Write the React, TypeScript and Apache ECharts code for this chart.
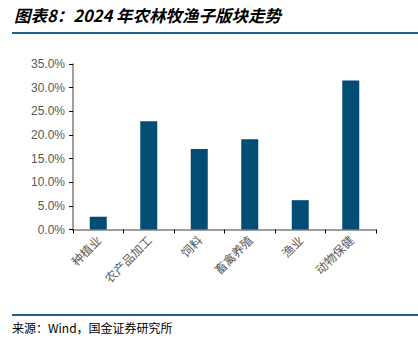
import React, { useEffect, useRef } from "react";
import * as echarts from "echarts";

const categories = ["种植业", "农产品加工", "饲料", "畜禽养殖", "渔业", "动物保健"];
const values = [2.7, 22.9, 17.0, 19.1, 6.2, 31.5];
const titleText = "图表8：2024 年农林牧渔子版块走势";
const sourceText = "来源：Wind，国金证券研究所";

export default function App() {
  const ref = useRef<HTMLDivElement>(null);
  useEffect(() => {
    if (!ref.current) return;
    const chart = echarts.init(ref.current, null, { renderer: "svg" });
    chart.setOption({
      animation: false,
      backgroundColor: "#ffffff",
      grid: { left: 73, right: 42, top: 64, bottom: 111.5 },
      xAxis: {
        type: "category",
        data: categories,
        boundaryGap: true,
        axisLine: { lineStyle: { color: "#7f7f7f", width: 1.5 } },
        axisTick: { show: true, length: 4, lineStyle: { color: "#000000" } },
        axisLabel: {
          rotate: 45,
          color: "#595959",
          fontSize: 12,
          fontFamily: "Noto Sans CJK SC",
          margin: 8,
          interval: 0,
        },
      },
      yAxis: {
        type: "value",
        min: 0,
        max: 35,
        interval: 5,
        axisLine: { show: true, lineStyle: { color: "#7f7f7f", width: 1.5 } },
        axisTick: { show: true, length: 4, lineStyle: { color: "#000000" } },
        splitLine: { show: false },
        axisLabel: {
          color: "#595959",
          fontSize: 12,
          fontFamily: "Arial, Liberation Sans",
          margin: 8,
          formatter: (v: number) => v.toFixed(1) + "%",
        },
      },
      series: [
        {
          type: "bar",
          data: values,
          barWidth: 17,
          itemStyle: { color: "#034c74" },
        },
      ],
      graphic: [
        {
          type: "text",
          left: 14,
          top: 7,
          style: {
            text: titleText,
            fontSize: 16.5,
            fontStyle: "italic",
            fontWeight: "bold",
            fontFamily: "Noto Sans CJK SC",
            fill: "#000000",
          },
        },
        {
          type: "line",
          shape: { x1: 12, y1: 33, x2: 418, y2: 33 },
          style: { stroke: "#1f5f8b", lineWidth: 2 },
        },
        {
          type: "line",
          shape: { x1: 12, y1: 315, x2: 418, y2: 315 },
          style: { stroke: "#1f5f8b", lineWidth: 2 },
        },
        {
          type: "text",
          left: 12,
          top: 321,
          style: {
            text: sourceText,
            fontSize: 12,
            fontFamily: "Noto Sans CJK SC",
            fill: "#000000",
          },
        },
      ],
    });
    return () => chart.dispose();
  }, []);
  return <div ref={ref} style={{ width: 418, height: 341, position: "absolute", left: 0, top: 0 }} />;
}
